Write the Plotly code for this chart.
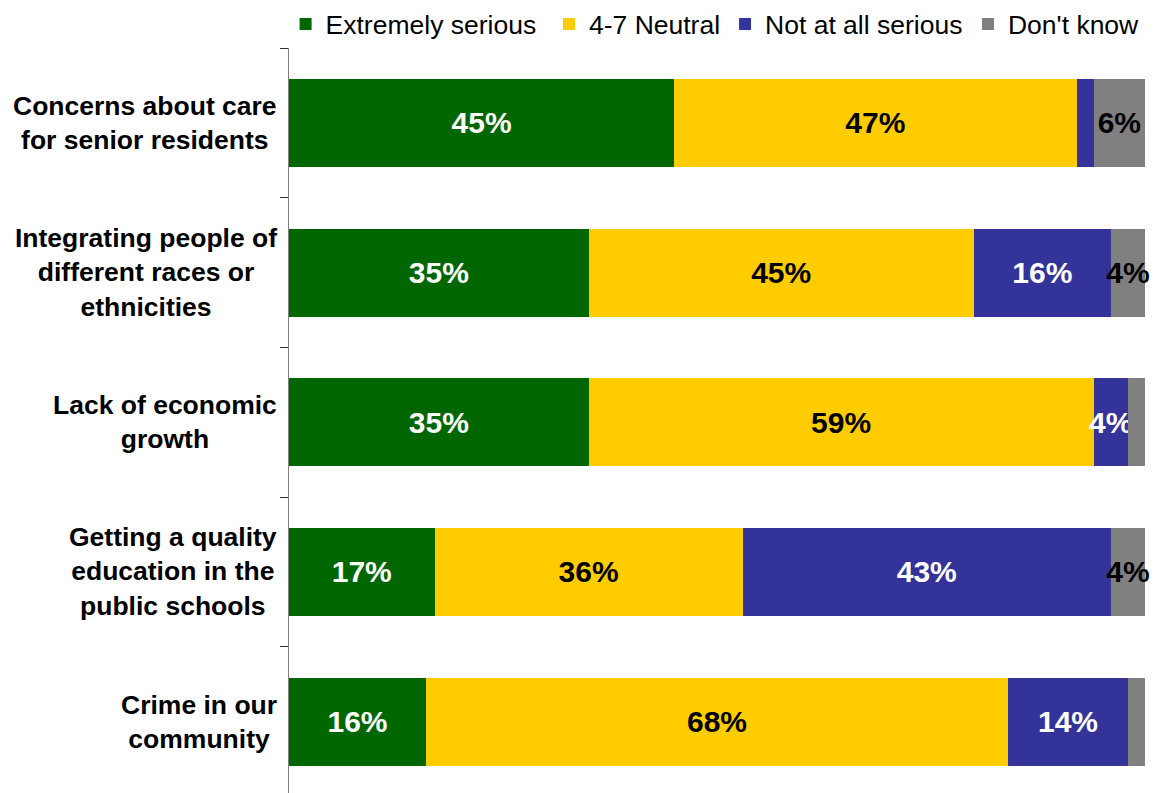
import plotly.graph_objects as go

# Survey issues, listed top to bottom
categories = [
    "Concerns about care<br>for senior residents",
    "Integrating people of<br>different races or<br>ethnicities",
    "Lack of economic<br>growth",
    "Getting a quality<br>education in the<br>public schools",
    "Crime in our<br>community",
]

series_names = ["Extremely serious", "4-7 Neutral", "Not at all serious", "Don't know"]
extremely_serious = [45, 35, 35, 17, 16]
neutral = [47, 45, 59, 36, 68]
not_at_all_serious = [2, 16, 4, 43, 14]
dont_know = [6, 4, 2, 4, 2]

colors = ["#006600", "#FFCC00", "#333399", "#808080"]
text_colors = ["white", "black", "white", "black"]
MIN_LABEL = 3  # segments below this share are left unlabeled

# Left edge of each legend entry, in paper units across the plot area
legend_x = [-0.004, 0.3037, 0.5094, 0.7932]

FONT = "Liberation Sans, Arial, sans-serif"

fig = go.Figure()
ypos = list(range(len(categories)))
legend_ids = ["legend", "legend2", "legend3", "legend4"]
for name, vals, col, tcol, lid in zip(
    series_names,
    [extremely_serious, neutral, not_at_all_serious, dont_know],
    colors,
    text_colors,
    legend_ids,
):
    fig.add_trace(
        go.Bar(
            name=name,
            y=ypos,
            x=vals,
            orientation="h",
            marker=dict(color=col, line=dict(width=0)),
            text=[f"{v}%" if v >= MIN_LABEL else "" for v in vals],
            textposition="inside",
            insidetextanchor="middle",
            textangle=0,
            constraintext="none",
            cliponaxis=False,
            textfont=dict(family=FONT, size=30, color=tcol, weight="bold"),
            hoverinfo="skip",
            legend=lid,
        )
    )

# Category labels, centred line by line to the left of the axis
for i, cat in enumerate(categories):
    fig.add_annotation(
        x=0,
        xref="paper",
        y=i,
        yref="y",
        text=cat,
        showarrow=False,
        xanchor="right",
        yanchor="middle",
        align="center",
        xshift=-10,
        font=dict(family=FONT, size=26.5, color="black", weight="bold"),
    )

legend_style = dict(
    orientation="h",
    xanchor="left",
    y=1.032,
    yanchor="middle",
    font=dict(family=FONT, size=26.5, color="black"),
    itemwidth=30,
    bgcolor="rgba(0,0,0,0)",
)

fig.update_layout(
    barmode="stack",
    bargap=0.412,
    width=1165,
    height=793,
    margin=dict(l=289, r=20, t=48, b=0, pad=0),
    plot_bgcolor="white",
    paper_bgcolor="white",
    showlegend=True,
    xaxis=dict(
        range=[0, 100],
        showticklabels=False,
        showgrid=False,
        zeroline=False,
        showline=False,
        ticks="",
        fixedrange=True,
    ),
    yaxis=dict(
        range=[4.477, -0.5],
        tickmode="array",
        tickvals=[i - 0.5 for i in range(len(categories))],
        ticktext=[""] * len(categories),
        ticks="outside",
        ticklen=8,
        tickwidth=1,
        tickcolor="#333333",
        showline=True,
        linecolor="#808080",
        linewidth=1,
        showgrid=False,
        zeroline=False,
        fixedrange=True,
    ),
)
for lid, lx in zip(legend_ids, legend_x):
    fig.update_layout({lid: dict(legend_style, x=lx)})

fig.write_html("out.html")
